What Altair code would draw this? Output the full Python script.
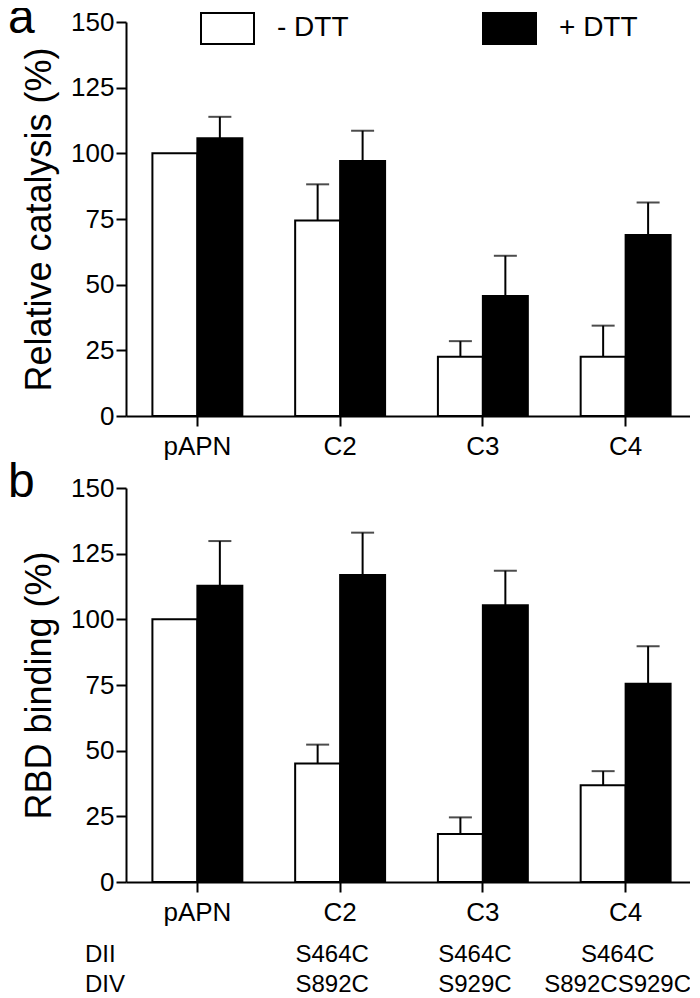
import altair as alt
import pandas as pd

FONT = "Liberation Sans"

categories = ["pAPN", "C2", "C3", "C4"]
groups = ["- DTT", "+ DTT"]

# Panel a: relative catalysis (%)
cat_minus = [100.0, 74.4, 22.6, 22.6]
cat_minus_err = [0.0, 13.8, 5.9, 11.8]
cat_plus = [105.7, 97.1, 45.7, 68.9]
cat_plus_err = [8.2, 11.5, 15.3, 12.4]

# Panel b: RBD binding (%)
bind_minus = [100.0, 45.1, 18.3, 36.8]
bind_minus_err = [0.0, 7.2, 6.3, 5.4]
bind_plus = [112.8, 116.9, 105.4, 75.5]
bind_plus_err = [17.0, 16.1, 13.1, 14.3]

dii_labels = ["", "S464C", "S464C", "S464C"]
div_labels = ["", "S892C", "S929C", "S892CS929C"]
row_names = ["DII", "DIV"]
y_ticks = [0, 25, 50, 75, 100, 125, 150]


def build_df(minus, minus_err, plus, plus_err):
    rows = []
    for i, c in enumerate(categories):
        rows.append({"cat": c, "grp": groups[0], "val": minus[i], "err": minus_err[i]})
        rows.append({"cat": c, "grp": groups[1], "val": plus[i], "err": plus_err[i]})
    return pd.DataFrame(rows)


df_a = build_df(cat_minus, cat_minus_err, cat_plus, cat_plus_err)
df_b = build_df(bind_minus, bind_minus_err, bind_plus, bind_plus_err)


def make_panel(df, ytitle, letter, letter_y, legend, extra_rows=False):
    x = alt.X(
        "cat:N",
        sort=categories,
        scale=alt.Scale(paddingInner=0.37, paddingOuter=0.185),
        axis=alt.Axis(
            title=None, labelAngle=0, tickSize=10, tickWidth=2, tickColor="black",
            domainWidth=2, domainColor="black", labelPadding=7, labelFontSize=26,
            labelFont=FONT, labelColor="black",
        ),
    )
    xo = alt.XOffset("grp:N", sort=groups, scale=alt.Scale(paddingInner=0, paddingOuter=0))
    y = alt.Y(
        "val:Q",
        scale=alt.Scale(domain=[0, 150], nice=False),
        axis=alt.Axis(
            title=ytitle, values=y_ticks, tickSize=10, tickWidth=2, tickColor="black",
            domainWidth=2, domainColor="black", labelPadding=2, labelFontSize=26,
            labelFont=FONT, labelColor="black", titleFont=FONT, titleFontSize=36,
            titleFontWeight="normal", titleColor="black", titlePadding=12, grid=False,
        ),
    )
    fill = alt.Fill(
        "grp:N",
        sort=groups,
        scale=alt.Scale(domain=groups, range=["white", "black"]),
        legend=legend,
    )
    bars = alt.Chart(df).mark_bar(stroke="black", strokeWidth=2).encode(
        x=x, xOffset=xo, y=y, fill=fill
    )
    eb = alt.Chart(df).transform_filter("datum.err > 0").transform_calculate(
        up="datum.val + datum.err"
    )
    rule = eb.mark_rule(color="black", strokeWidth=2).encode(
        x=x, xOffset=xo, y=y, y2="up:Q"
    )
    cap = eb.mark_tick(color="black", thickness=2, size=23, orient="horizontal").encode(
        x=x, xOffset=xo, y=alt.Y("up:Q")
    )
    letter_t = alt.Chart(pd.DataFrame({"t": [letter]})).mark_text(
        font=FONT, fontSize=48, align="left", baseline="alphabetic", color="black"
    ).encode(text="t:N", x=alt.value(-118), y=alt.value(letter_y))
    layers = [bars, rule, cap, letter_t]
    if extra_rows:
        rdf = pd.DataFrame({"cat": categories, "dii": dii_labels, "div": div_labels})
        for field, yy in (("dii", 474), ("div", 504)):
            layers.append(
                alt.Chart(rdf).mark_text(
                    font=FONT, fontSize=24, baseline="alphabetic", color="black", dx=-8
                ).encode(x=x, y=alt.value(yy), text=f"{field}:N")
            )
        for name, yy in zip(row_names, (474, 504)):
            layers.append(
                alt.Chart(pd.DataFrame({"t": [name]})).mark_text(
                    font=FONT, fontSize=24, align="left", baseline="alphabetic", color="black"
                ).encode(x=alt.value(-41), y=alt.value(yy), text="t:N")
            )
    return alt.layer(*layers).properties(width=571, height=394)


legend_a = alt.Legend(
    orient="none", legendX=74, legendY=-21.5, direction="horizontal", title=None,
    symbolType="M-1,-0.585H1V0.585H-1Z", symbolSize=2809, symbolStrokeColor="black",
    symbolStrokeWidth=2, labelFontSize=28, labelFont=FONT, labelColor="black",
    labelOffset=22, columnPadding=130, padding=0,
)

panel_a = make_panel(df_a, "Relative catalysis (%)", "a", 11, legend_a)
panel_b = make_panel(df_b, "RBD binding (%)", "b", 9, None, extra_rows=True)

chart = (
    alt.vconcat(panel_a, panel_b, spacing=0)
    .resolve_legend(fill="independent")
    .properties(padding={"top": -13, "left": 0, "right": -7, "bottom": 0})
    .configure_view(stroke=None)
)

chart.save("out.html", embed_options={"renderer": "svg", "actions": False})
